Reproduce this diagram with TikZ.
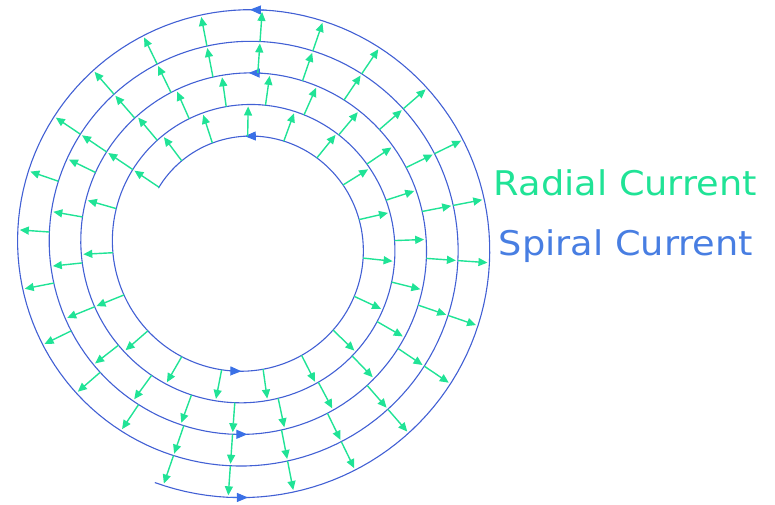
\documentclass[tikz,border=0pt]{standalone}
\usepackage{fontspec}
\setmainfont{DejaVu Sans}[FakeStretch=1.08]
\usepackage{xcolor}
\usetikzlibrary{arrows.meta}

\definecolor{radialgreen}{RGB}{32,227,150}
\definecolor{spiralblue}{RGB}{66,96,212}
\definecolor{tipblue}{RGB}{58,112,230}
\definecolor{textblue}{RGB}{72,126,226}

\begin{document}
\begin{tikzpicture}[
    x=1pt, y=1pt,
    declare function={spirad(\t)=117.5-0.0878*\t;},
    spiral/.style={draw=spiralblue, line width=1.1pt},
    spiraltip/.style={draw=tipblue, line width=1pt, -{Triangle[length=11pt, width=9pt]}},
    radial/.style={draw=radialgreen, line width=1.4pt, -{Triangle[length=9pt, width=8pt]}},
    caption/.style={anchor=base west, inner sep=0pt, font=\fontsize{34}{40}\selectfont}
]
    \useasboundingbox (-245.75,-258.25) rectangle (529.25,245.75);

    % the spiral conductor
    \draw[spiral] plot[domain=146.6:-1551, samples=700, variable=\t] (\t:{spirad(\t)});
    \foreach \t in {90.5,-92,-631,-809.5,-1351,-1529.5}
        \draw[spiraltip] (\t-4:{spirad(\t-4)}) -- (\t:{spirad(\t)});

    % radial current between the turns
    \foreach \a/\s/\b in {146/127/-200, -214/-230/-570, -574/-589/-930, -934/-949/-1190}
        \foreach \t in {\a,\s,...,\b}
            \draw[radial] (\t:{spirad(\t)}) -- (\t:{spirad(\t-360)-2}); 

    \node[caption, text=radialgreen] (radial) at (248,50.75) {Radial Current};
    \node[caption, text=textblue] (spiral) at (253,-9.25) {Spiral Current};
\end{tikzpicture}
\end{document}
